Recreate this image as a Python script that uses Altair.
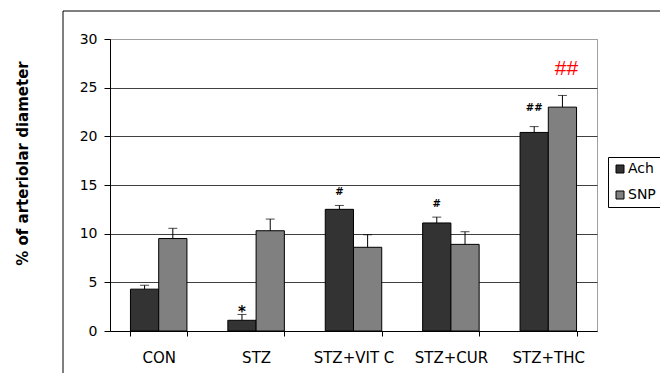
import altair as alt
import pandas as pd

categories = ["CON", "STZ", "STZ+VIT C", "STZ+CUR", "STZ+THC"]
series = ["Ach", "SNP"]
ach_values = [4.3, 1.1, 12.5, 11.1, 20.4]
ach_se = [0.4, 0.6, 0.4, 0.6, 0.6]
snp_values = [9.5, 10.3, 8.6, 8.9, 23.0]
snp_se = [1.05, 1.2, 1.3, 1.3, 1.2]
colors = ["#333333", "#808080"]

ann_category = ["STZ", "STZ+VIT C", "STZ+CUR", "STZ+THC"]
ann_series = ["Ach", "Ach", "Ach", "Ach"]
ann_y = [2.0, 14.3, 13.0, 22.9]
ann_text = ["*", "#", "#", "##"]

red_category = ["STZ+THC"]
red_series = ["SNP"]
red_y = [26.9]
red_text = ["##"]

rows = []
for c, v, s in zip(categories, ach_values, ach_se):
    rows.append({"category": c, "series": "Ach", "value": v, "upper": v + s})
for c, v, s in zip(categories, snp_values, snp_se):
    rows.append({"category": c, "series": "SNP", "value": v, "upper": v + s})
df = pd.DataFrame(rows)

ann_df = pd.DataFrame({"category": ann_category, "series": ann_series, "y": ann_y, "text": ann_text})
red_df = pd.DataFrame({"category": red_category, "series": red_series, "y": red_y, "text": red_text})
one = pd.DataFrame({"k": [0]})

x_enc = alt.X(
    "category:N",
    sort=categories,
    scale=alt.Scale(domain=categories, paddingInner=0.42, paddingOuter=0.21),
    axis=alt.Axis(
        title=None, labelAngle=0, tickBand="extent", tickSize=5, tickColor="black",
        domainColor="black", labelFont="DejaVu Sans", labelFontSize=15,
        labelColor="black", labelPadding=14, grid=False,
    ),
)
xoff = alt.XOffset("series:N", scale=alt.Scale(domain=series))

y_axis = alt.Axis(
    title="% of arteriolar diameter",
    values=[0, 5, 10, 15, 20, 25, 30],
    tickSize=6, tickColor="black", domainColor="black",
    labelFont="DejaVu Sans", labelFontSize=14, labelColor="black", labelPadding=7,
    grid=True,
    gridColor={"condition": {"test": "datum.value >= 30", "value": "#a0a0a0"}, "value": "#404040"},
    titleFont="DejaVu Sans", titleFontSize=15, titleFontWeight="bold", titleColor="black",
    titleX=-88, titleY=124, titleAlign="center", titleBaseline="middle", titleAngle=-90,
)

base = alt.Chart(df).encode(x=x_enc, xOffset=xoff)

bars = base.mark_bar(stroke="black", strokeWidth=1).encode(
    y=alt.Y("value:Q", scale=alt.Scale(domain=[0, 30]), axis=y_axis),
    color=alt.Color(
        "series:N",
        scale=alt.Scale(domain=series, range=colors),
        legend=alt.Legend(
            title=None, orient="none", legendX=498, legendY=118,
            strokeColor="black", fillColor="white", padding=5,
            symbolType="square", symbolSize=64, symbolStrokeColor="black",
            symbolStrokeWidth=1, labelFont="DejaVu Sans", labelFontSize=14,
            labelColor="black", rowPadding=12, labelOffset=1,
        ),
    ),
)
err = base.mark_rule(color="black", strokeWidth=1).encode(y="value:Q", y2="upper:Q")
caps = base.mark_tick(color="black", size=9, thickness=1, orient="horizontal").encode(y="upper:Q")

ann = alt.Chart(ann_df).mark_text(
    font="DejaVu Sans", fontWeight="bold", color="black", baseline="middle"
).encode(
    x=alt.X("category:N", sort=categories), xOffset=xoff, y="y:Q", text="text:N",
    size=alt.condition("datum.text === '*'", alt.value(15), alt.value(10)),
)

red = alt.Chart(red_df).mark_text(
    font="Liberation Sans", fontSize=21, color="#ff0000", baseline="middle", dx=4
).encode(x=alt.X("category:N", sort=categories), xOffset=xoff, y="y:Q", text="text:N")

frame_left = alt.Chart(one).mark_rule(color="black", strokeWidth=1).encode(
    x=alt.value(-47), y=alt.value(-28), y2=alt.value(340)
)
frame_top = alt.Chart(one).mark_rule(color="black", strokeWidth=1).encode(
    x=alt.value(-47), x2=alt.value(560), y=alt.value(-28)
)

chart = alt.layer(bars, err, caps, ann, red, frame_left, frame_top).properties(
    width=487, height=292,
    autosize=alt.AutoSizeParams(type="none"),
    padding={"left": 102, "top": 31, "right": 63, "bottom": 42},
).configure_view(stroke="#a0a0a0", strokeWidth=1)

chart.save("out.html", embed_options={"renderer": "svg", "actions": False})
